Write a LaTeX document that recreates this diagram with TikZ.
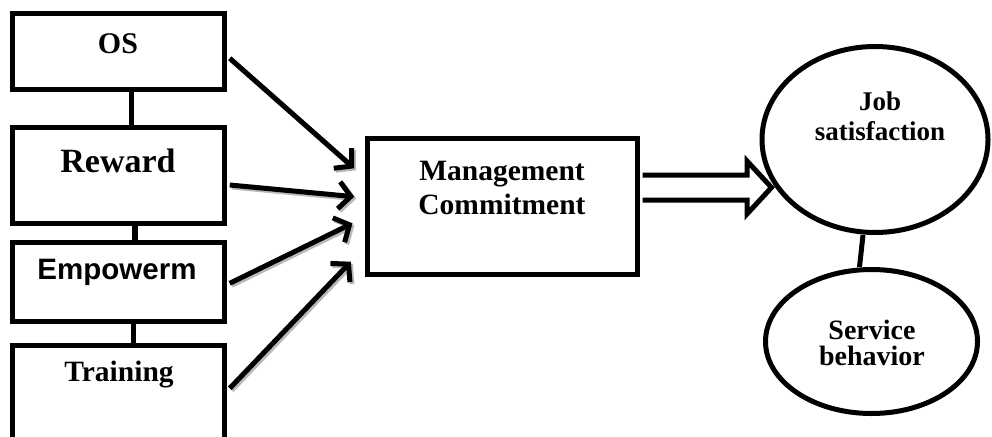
\documentclass[tikz,border=0pt]{standalone}
\usepackage{fontspec}
\setmainfont{Liberation Serif}
\newfontfamily\arialf{Liberation Sans}
\usetikzlibrary{arrows.meta,shapes.geometric}
\begin{document}
\begin{tikzpicture}[x=1pt,y=-1pt,
  box/.style={draw, line width=5pt, rectangle, inner sep=0pt, minimum width=212.3pt},
  oval/.style={draw, line width=5pt, ellipse, inner sep=0pt},
  lbl/.style={anchor=base, inner sep=0pt, align=center, font=\bfseries},
  link/.style={line width=5pt},
  feed/.style={line width=5pt, -{Straight Barb[length=12pt,width=27pt]}},
  shadowcol/.style={draw=gray!55},
  bigarrow/.style={draw, line width=5pt, fill=white, line join=miter}
]
\useasboundingbox (0,0) rectangle (992,436);

% left boxes
\node[box, minimum height=75.7pt] (os) at (118.6,51.7) {};
\node[box, minimum height=96pt] (rw) at (118.6,175.3) {};
\node[box, minimum height=79pt] (em) at (118.6,281.5) {};
\node[box, minimum height=96pt] (tr) at (118.6,393) {};

% management box
\node[box, minimum width=270.5pt, minimum height=135.7pt] (mc) at (502.25,206.2) {};

% ellipses
\node[oval, minimum width=226pt, minimum height=186pt] (js) at (875,139.5) {};
\node[oval, minimum width=212pt, minimum height=144pt] (sb) at (871.5,341.5) {};

% labels (base = baseline of last line)
\node[lbl, font=\bfseries\fontsize{30}{34}\selectfont] (tos) at (118,54) {OS};
\node[lbl, font=\bfseries\fontsize{34}{38}\selectfont] (trw) at (118,172) {Reward};
\node[lbl, font=\arialf\bfseries\fontsize{29.5}{34}\selectfont] (tem) at (117,279) {Empowerm};
\node[lbl, font=\bfseries\fontsize{29.5}{34}\selectfont] (ttr) at (119,381) {Training};
\node[lbl, font=\bfseries\fontsize{29.5}{34}\selectfont] (tmc) at (502,214) {Management\\Commitment};
\node[lbl, font=\bfseries\fontsize{27}{30.5}\selectfont] (tjs) at (880,140.5) {Job\\satisfaction};
\node[lbl, font=\bfseries\fontsize{28}{26}\selectfont] (tsb) at (872,365) {Service\\behavior};

% vertical links
\draw[link] ([xshift=13pt]os.south) -- ([xshift=13pt]rw.north);
\draw[line width=6.5pt] ([xshift=16.4pt]rw.south) -- ([xshift=16.4pt]em.north);
\draw[link] ([xshift=14.4pt]em.south) -- ([xshift=14.4pt]tr.north);
\draw[link] ([xshift=-12pt]js.south) -- ([xshift=-12pt]sb.north);

% feed arrows: grey shadow then black
\newcommand\feedarrows{%
  \draw[feed] ([xshift=2.5pt,yshift=-6.6pt]os.east) -- ([xshift=-10.3pt,yshift=37.9pt]mc.west);
  \draw[feed] ([xshift=2.5pt,yshift=-9.7pt]rw.east) -- ([xshift=-10.3pt,yshift=9.5pt]mc.west);
  \draw[feed] ([xshift=2.5pt,yshift=-1.8pt]em.east) -- ([xshift=-12pt,yshift=-17.1pt]mc.west);
  \draw[feed] ([xshift=2.5pt,yshift=4.7pt]tr.east) -- ([xshift=-13.7pt,yshift=-55.5pt]mc.west);
}
\begin{scope}[transform canvas={shift={(2pt,-2pt)}}, every path/.style={shadowcol}]
  \feedarrows
\end{scope}
\feedarrows

% block arrow
\coordinate (da) at ([yshift=18.7pt]mc.east);
\draw[bigarrow] ([shift={(2.5,-12.5)}]da) -- ++(104.5,0) -- ++(0,-14) -- ++(24.5,26.5) -- ++(-24.5,26.5) -- ++(0,-14) -- ++(-104.5,0);
\end{tikzpicture}
\end{document}
